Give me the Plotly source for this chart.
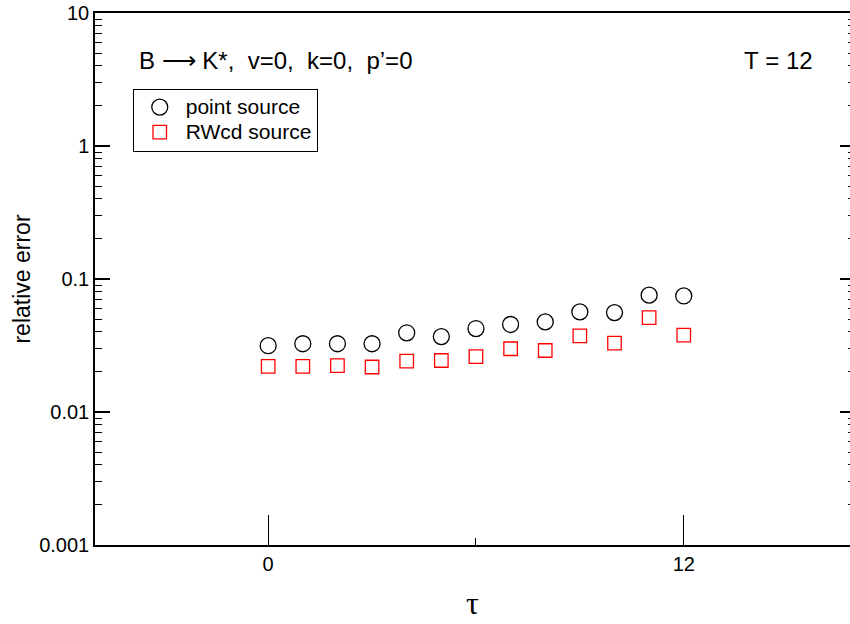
import plotly.graph_objects as go

# Source-time slices and relative errors of the B -> K* three-point function
tau = list(range(13))
point_source = [0.0315, 0.0326, 0.0326, 0.0326, 0.0394, 0.0369, 0.0424,
                0.0455, 0.0476, 0.0566, 0.0559, 0.0756, 0.0746]
rwcd_source = [0.0220, 0.0220, 0.0223, 0.0218, 0.0241, 0.0244, 0.0261,
               0.0299, 0.0290, 0.0374, 0.0330, 0.0513, 0.0378]

y_tickvals = [0.001, 0.01, 0.1, 1, 10]
y_ticktext = ["0.001", "0.01", "0.1", "1", "10"]
y_minor_ticks = [m * d for d in (0.001, 0.01, 0.1, 1) for m in range(2, 10)]
x_tickvals = [0, 12]
x_ticktext = ["0", "12"]
x_minor_ticks = [6]

FONT = "Liberation Sans, Arial, sans-serif"


def legend_label(text):
    return f'<span style="font-size:21px">{text}</span>'


fig = go.Figure()
fig.add_trace(go.Scatter(
    x=tau, y=point_source, mode="markers", name=legend_label("point source"),
    marker=dict(symbol="circle-open", size=16, color="black",
                line=dict(color="black", width=1.3)),
))
# second series drawn against the right-hand log axis (same range as the left)
fig.add_trace(go.Scatter(
    x=tau, y=rwcd_source, mode="markers", name=legend_label("RWcd source"),
    yaxis="y2",
    marker=dict(symbol="square-open", size=13.5, color="red",
                line=dict(color="red", width=1.3)),
))

fig.update_layout(
    width=850, height=624,
    margin=dict(l=95, r=0, t=13, b=79),
    paper_bgcolor="white", plot_bgcolor="white",
    font=dict(family=FONT, size=20, color="black"),
    showlegend=True,
    legend=dict(
        x=0.05, y=0.858, xanchor="left", yanchor="top",
        bordercolor="black", borderwidth=1, bgcolor="white",
        font=dict(family=FONT, size=17, color="black"),
        tracegroupgap=0, itemsizing="trace", itemwidth=42,
    ),
    xaxis=dict(
        range=[-5, 16.8], showgrid=False, zeroline=False,
        showline=True, linecolor="black", linewidth=1.5, mirror=True,
        ticks="inside", ticklen=30, tickwidth=1.2, tickcolor="black",
        tickmode="array", tickvals=x_tickvals, ticktext=x_ticktext,
        tickfont=dict(family=FONT, size=20),
        minor=dict(tickmode="array", tickvals=x_minor_ticks,
                   ticks="inside", ticklen=7, tickwidth=1.2, tickcolor="black"),
        title=dict(text="τ", font=dict(family="Liberation Serif, Times New Roman, serif", size=32),
                   standoff=18),
    ),
    yaxis=dict(
        type="log", range=[-3, 1], showgrid=False, zeroline=False,
        showline=True, linecolor="black", linewidth=1.5,
        ticks="inside", ticklen=15, tickwidth=1.5, tickcolor="black",
        tickmode="array", tickvals=y_tickvals, ticktext=y_ticktext,
        tickfont=dict(family=FONT, size=20),
        minor=dict(tickmode="array", tickvals=y_minor_ticks,
                   ticks="inside", ticklen=7, tickwidth=1.3, tickcolor="black",
                   showgrid=False),
        title=dict(text="relative error", font=dict(family=FONT, size=23),
                   standoff=2),
    ),
    yaxis2=dict(
        type="log", range=[-3, 1], overlaying="y", side="right", anchor="x",
        showgrid=False, zeroline=False, showline=False,
        ticks="inside", ticklen=10, tickwidth=1.5, tickcolor="black",
        tickmode="array", tickvals=y_tickvals, showticklabels=False,
        minor=dict(tickmode="array", tickvals=y_minor_ticks,
                   ticks="inside", ticklen=2, tickwidth=1.3, tickcolor="black",
                   showgrid=False),
    ),
)

sp = "\u00a0"
fig.add_annotation(
    xref="paper", yref="paper", x=0.0556, y=0.911, xanchor="left", yanchor="middle",
    text=f"B{sp}\u27f6{sp}K*,{sp}{sp}v=0,{sp}{sp}k=0,{sp}{sp}p\u2019=0",
    showarrow=False, font=dict(family=FONT, size=24, color="black"),
)
fig.add_annotation(
    xref="paper", yref="paper", x=0.9536, y=0.911, xanchor="right", yanchor="middle",
    text=f"T{sp}={sp}12", showarrow=False,
    font=dict(family=FONT, size=24, color="black"),
)

fig.write_html("out.html")
